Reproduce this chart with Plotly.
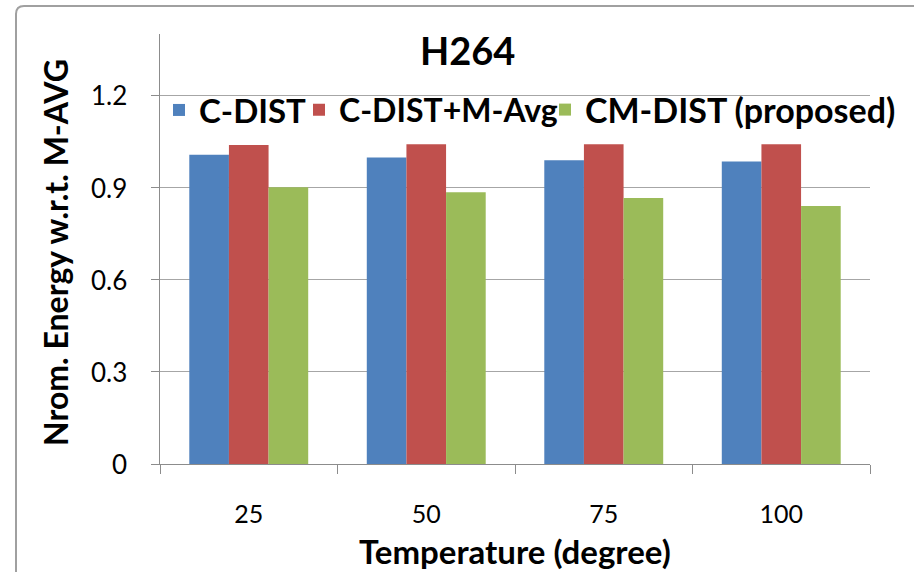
import plotly.graph_objects as go

categories = ["25", "50", "75", "100"]
c_dist = [1.007, 0.998, 0.989, 0.985]
c_dist_mavg = [1.039, 1.041, 1.041, 1.041]
cm_dist = [0.901, 0.885, 0.866, 0.840]
series_names = ["C-DIST", "C-DIST+M-Avg", "CM-DIST (proposed)"]
colors = ["#4F81BD", "#C0504D", "#9BBB59"]
y_ticks = [0, 0.3, 0.6, 0.9, 1.2]
y_ticktext = ["0", "0.3", "0.6", "0.9", "1.2"]

FONT = "Lato"

L, R, T, B = 160, 44, 34, 108
W, H = 914, 572
pw = W - L - R
ph = H - T - B

def px2x(px):
    return (px - L) / pw

def py2y(py):
    return (H - B - py) / ph

legend_ids = ["legend", "legend2", "legend3"]
legend_text_starts = [199, 339, 585]
legend_font_sizes = [33, 32, 34]

fig = go.Figure()
for name, vals, col, lid in zip(series_names, [c_dist, c_dist_mavg, cm_dist], colors, legend_ids):
    fig.add_trace(go.Bar(x=categories, y=vals, name=name, marker_color=col,
                         marker_line_width=0, legend=lid))

legend_cfgs = {}
for lid, tx, fs in zip(legend_ids, legend_text_starts, legend_font_sizes):
    legend_cfgs[lid] = dict(orientation="h", x=px2x(tx - 40), y=py2y(110),
                            xanchor="left", yanchor="middle",
                            font=dict(family=FONT, size=fs, color="#000000", weight="bold"),
                            bgcolor="rgba(0,0,0,0)", itemwidth=30)

annotations = [
    dict(text="<b>H264</b>", x=px2x(467), y=py2y(50), xref="paper", yref="paper",
         xanchor="center", yanchor="middle",
         showarrow=False, font=dict(family=FONT, size=38, color="#000000")),
    dict(text="<b>Temperature (degree)</b>", x=px2x(515), y=py2y(551), xref="paper", yref="paper",
         xanchor="center", yanchor="middle",
         showarrow=False, font=dict(family=FONT, size=33, color="#000000")),
    dict(text="<b>Nrom. Energy w.r.t. M-AVG</b>", x=px2x(55), y=py2y(253), xref="paper", yref="paper",
         xanchor="center", yanchor="middle",
         showarrow=False, textangle=-90, font=dict(family=FONT, size=32, color="#000000")),
]
# y-axis tick labels, placed on the y scale
for v, t in zip(y_ticks, y_ticktext):
    annotations.append(dict(text=t, x=px2x(129), y=v, xref="paper", yref="y",
                            xanchor="right", yanchor="middle", showarrow=False,
                            font=dict(family=FONT, size=26, color="#000000")))

fig.update_layout(
    width=W, height=H,
    margin=dict(l=L, r=R, t=T, b=B),
    paper_bgcolor="white", plot_bgcolor="white",
    barmode="group", bargap=0.33, bargroupgap=0,
    font=dict(family=FONT, color="#000000"),
    showlegend=True,
    **legend_cfgs,
    xaxis=dict(showline=True, linecolor="#8c8c8c", linewidth=1,
               ticks="outside", tickson="boundaries", ticklen=9, tickcolor="#8c8c8c",
               tickfont=dict(family=FONT, size=25, color="#000000"), ticklabelstandoff=28,
               showgrid=False, zeroline=False),
    yaxis=dict(range=[0, 1.4], tickvals=y_ticks, showticklabels=False,
               showline=True, linecolor="#8c8c8c", linewidth=1,
               ticks="outside", ticklen=8, tickcolor="#8c8c8c",
               showgrid=True, gridcolor="#a6a6a6", gridwidth=1, zeroline=False),
    annotations=annotations,
    shapes=[
        dict(type="path", xref="paper", yref="paper",
             path=f"M {px2x(16)},{py2y(600)} L {px2x(16)},{py2y(14)} Q {px2x(16)},{py2y(6)} {px2x(24)},{py2y(6)} L {px2x(940)},{py2y(6)}",
             line=dict(color="#a0a0a0", width=2)),
    ],
)

fig.write_html("out.html")
